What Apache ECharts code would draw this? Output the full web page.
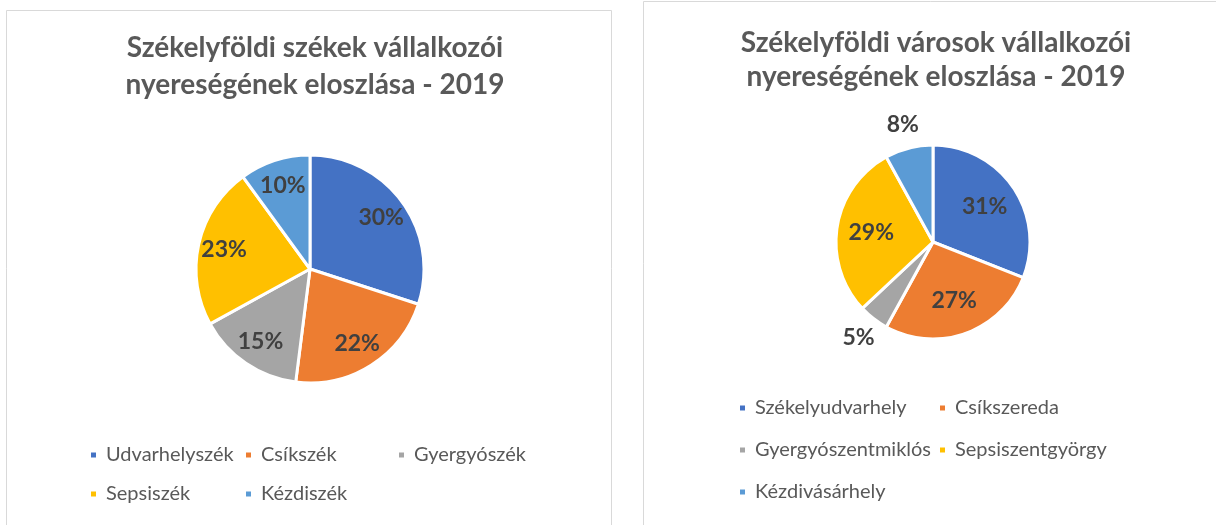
<!DOCTYPE html>
<html>
<head>
<meta charset="utf-8">
<script src="https://cdn.jsdelivr.net/npm/echarts@6/dist/echarts.min.js"></script>
<style>
  html, body { margin: 0; padding: 0; background: #fff; }
  #main { width: 1216px; height: 525px; }
</style>
</head>
<body>
<div id="main"></div>
<script>
// adatok
var szekek = ['Udvarhelyszék', 'Csíkszék', 'Gyergyószék', 'Sepsiszék', 'Kézdiszék'];
var szekekErtek = [30, 22, 15, 23, 10];
var varosok = ['Székelyudvarhely', 'Csíkszereda', 'Gyergyószentmiklós', 'Sepsiszentgyörgy', 'Kézdivásárhely'];
var varosokErtek = [31, 27, 5, 29, 8];
var kulsoCimke = ['Gyergyószentmiklós', 'Kézdivásárhely']; // ezek a szeleten kívül
var szinek = ['#4472C4', '#ED7D31', '#A5A5A5', '#FFC000', '#5B9BD5'];

var font = 'Lato, "Open Sans", sans-serif';
var chart = echarts.init(document.getElementById('main'), null, { renderer: 'canvas' });

function toData(names, vals) {
    return names.map(function (n, i) {
        return { name: n, value: vals[i], itemStyle: { color: szinek[i] } };
    });
}

// kulso = true: csak a kívül álló cimkék, különben csak a belsők
function labelData(names, vals, kulso) {
    return names.map(function (n, i) {
        var kint = kulsoCimke.indexOf(n) >= 0;
        return { name: n, value: vals[i], label: { show: kulso ? kint : !kint } };
    });
}

// egy jelmagyarázat elem
function leg(name, left, top) {
    return {
        data: [name], left: left, top: top, orient: 'horizontal',
        icon: 'rect', itemWidth: 7, itemHeight: 7, itemGap: 0,
        selectedMode: false,
        textStyle: { fontFamily: font, fontSize: 20, color: '#595959', padding: [0, 0, 0, 4] }
    };
}

var titleStyle = { fontFamily: font, fontSize: 28, fontWeight: 'bold', color: '#595959', lineHeight: 37 };
var titleStyle2 = Object.assign({}, titleStyle, { lineHeight: 34 });
var pctLabel = {
    show: true, position: 'inside',
    formatter: function (p) { return Math.round(p.percent) + '%'; },
    fontFamily: font, fontSize: 23, fontWeight: 'bold', color: '#404040'
};

function labelSeries(center, radius, names, vals, kulso) {
    return {
        type: 'pie', center: center, radius: radius, startAngle: 90, clockwise: true,
        data: labelData(names, vals, kulso),
        itemStyle: { color: 'rgba(0,0,0,0)' },
        label: pctLabel, labelLine: { show: false }, silent: true
    };
}

var option = {
    backgroundColor: '#fff',
    animation: false,
    graphic: [
        { type: 'rect', shape: { x: 6.5, y: 10.5, width: 605, height: 530 }, style: { fill: 'none', stroke: '#D9D9D9', lineWidth: 1 }, silent: true },
        { type: 'rect', shape: { x: 643.5, y: 1.5, width: 600, height: 540 }, style: { fill: 'none', stroke: '#D9D9D9', lineWidth: 1 }, silent: true }
    ],
    title: [
        { text: 'Székelyföldi székek vállalkozói\nnyereségének eloszlása - 2019', left: 310, top: 24, textAlign: 'center', textStyle: titleStyle },
        { text: 'Székelyföldi városok vállalkozói\nnyereségének eloszlása - 2019', left: 931, top: 21, textAlign: 'center', textStyle: titleStyle2 }
    ],
    legend: [
        leg(szekek[0], 84, 440), leg(szekek[1], 239, 440), leg(szekek[2], 392, 440),
        leg(szekek[3], 84, 479), leg(szekek[4], 239, 479),
        leg(varosok[0], 733, 393), leg(varosok[1], 933, 393),
        leg(varosok[2], 733, 435), leg(varosok[3], 933, 435),
        leg(varosok[4], 733, 477)
    ],
    series: [
        {
            type: 'pie', center: [310, 269], radius: [0, 114], startAngle: 90, clockwise: true,
            data: toData(szekek, szekekErtek),
            itemStyle: { borderColor: '#fff', borderWidth: 3 },
            label: { show: false }, labelLine: { show: false }, silent: true
        },
        // csak a százalék cimkék
        labelSeries([310, 269], [56, 114], szekek, szekekErtek, false),
        {
            type: 'pie', center: [933, 242], radius: [0, 97], startAngle: 90, clockwise: true,
            data: toData(varosok, varosokErtek),
            itemStyle: { borderColor: '#fff', borderWidth: 3 },
            label: { show: false }, labelLine: { show: false }, silent: true
        },
        labelSeries([933, 242], [22, 97], varosok, varosokErtek, false),
        labelSeries([933, 242], [105, 132], varosok, varosokErtek, true)
    ]
};

chart.setOption(option);
</script>
</body>
</html>
